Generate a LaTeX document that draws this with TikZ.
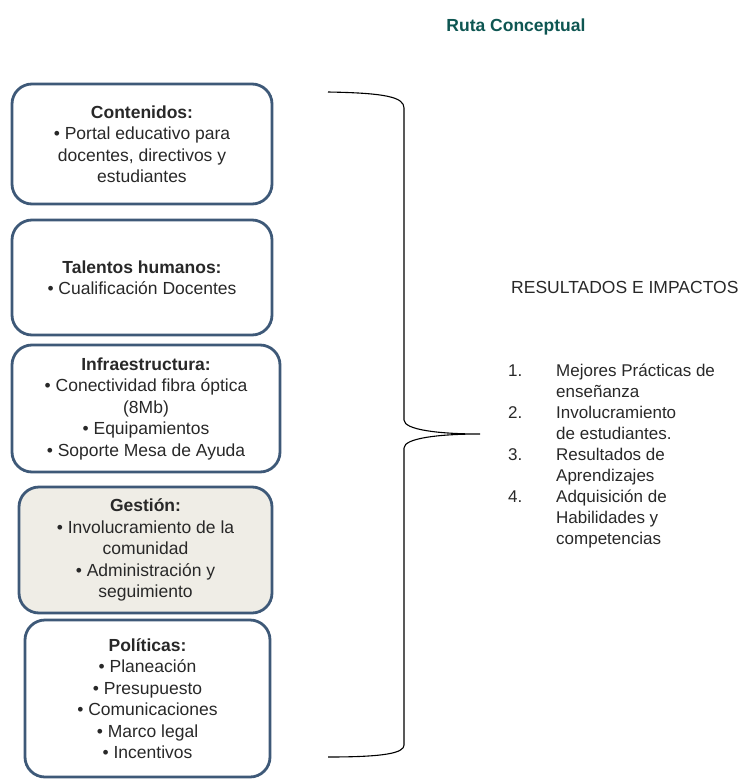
\documentclass[tikz,border=0pt]{standalone}
\usepackage{fontspec}
\setmainfont{Liberation Sans}
\definecolor{boxline}{RGB}{62,89,120}
\definecolor{gestfill}{RGB}{239,237,230}
\definecolor{rutateal}{RGB}{14,86,82}
\definecolor{txtgray}{RGB}{40,40,40}
\begin{document}
\begin{tikzpicture}[x=1pt, y=-1pt, box/.style={draw=boxline, line width=2.8pt, rounded corners=20pt, align=center, inner sep=0pt, text=txtgray, font=\fontsize{17.5}{21.5}\selectfont}]
	\useasboundingbox (0,0) rectangle (748,779);
	\node [text=rutateal, font=\bfseries\fontsize{17.5}{20}\selectfont] (RC) at (516,27) {Ruta Conceptual};

	\node [box, minimum width=260pt, minimum height=120pt] (C) at (142,144) {\textbf{Contenidos:}\\\textbullet{} Portal educativo para\\docentes, directivos y\\estudiantes};
	\node [box, minimum width=260pt, minimum height=115pt] (T) at (142,277.5) {\textbf{Talentos humanos:}\\\textbullet{} Cualificación Docentes};
	\node [box, minimum width=268pt, minimum height=127pt] (I) at (146,408.5) {\textbf{Infraestructura:}\\\textbullet{} Conectividad fibra óptica\\(8Mb)\\\textbullet{} Equipamientos\\\textbullet{} Soporte Mesa de Ayuda};
	\node [box, fill=gestfill, minimum width=253pt, minimum height=126pt] (G) at (145.5,550) {\textbf{Gestión:}\\\textbullet{} Involucramiento de la\\comunidad\\\textbullet{} Administración y\\seguimiento};
	\node [box, minimum width=245pt, minimum height=157pt] (P) at (147.5,698.5) {\textbf{Políticas:}\\\textbullet{} Planeación\\\textbullet{} Presupuesto\\\textbullet{} Comunicaciones\\\textbullet{} Marco legal\\\textbullet{} Incentivos};

	\draw [line width=1.1pt] (328,92) .. controls (385,93) and (404,97) .. (404,108)
		-- (404,420) .. controls (404,430) and (440,434) .. (480,434)
		.. controls (440,434) and (404,438) .. (404,448)
		-- (404,745) .. controls (404,753) and (385,757) .. (328,757);

	\node [anchor=west, inner sep=0pt, text=txtgray, font=\fontsize{17.5}{21}\selectfont] (R) at (511,287) {RESULTADOS E IMPACTOS};
	\node [anchor=north west, inner sep=0pt, text=txtgray, font=\fontsize{17}{21}\selectfont] (L) at (508,362) {\begin{tabular}{@{}p{48pt}@{}l@{}}
		1. & Mejores Prácticas de\\
		 & enseñanza\\
		2. & Involucramiento\\
		 & de estudiantes.\\
		3. & Resultados de\\
		 & Aprendizajes\\
		4. & Adquisición de\\
		 & Habilidades y\\
		 & competencias
	\end{tabular}};
\end{tikzpicture}
\end{document}
